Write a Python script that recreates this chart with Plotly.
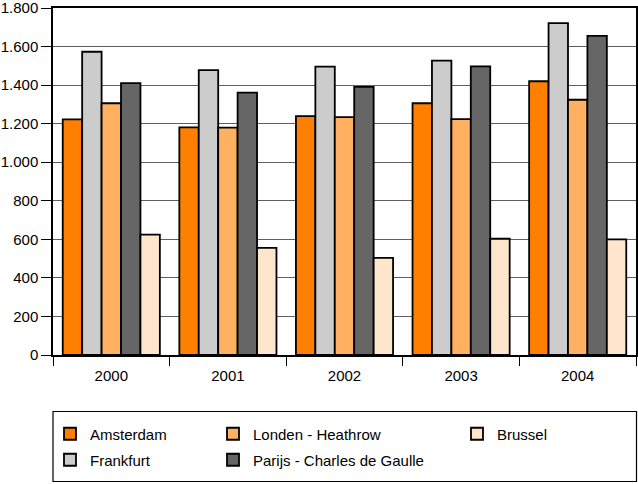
import plotly.graph_objects as go

years = ["2000", "2001", "2002", "2003", "2004"]
amsterdam = [1222, 1181, 1239, 1306, 1420]
frankfurt = [1573, 1478, 1496, 1527, 1722]
londen = [1306, 1179, 1234, 1224, 1324]
parijs = [1410, 1361, 1391, 1497, 1655]
brussel = [624, 556, 504, 603, 600]

series = [
    ("Amsterdam", amsterdam, "#FF7F00", "legend"),
    ("Frankfurt", frankfurt, "#CCCCCC", "legend2"),
    ("Londen - Heathrow", londen, "#FFB060", "legend3"),
    ("Parijs - Charles de Gaulle", parijs, "#666666", "legend4"),
    ("Brussel", brussel, "#FFE5CC", "legend5"),
]

FONT = "Liberation Sans"
fig = go.Figure()
for name, vals, col, lg in series:
    fig.add_trace(go.Bar(
        x=years, y=vals, name=name, legend=lg,
        marker=dict(color=col, line=dict(color="black", width=1.8)),
    ))

W, H = 638, 484
ml, mr, mt, mb = 53, 2, 8, 129
pw = W - ml - mr
ph = H - mt - mb

def px2x(px):
    return (px - ml) / pw

def px2y(py):
    return (H - mb - py) / ph

leg_common = dict(orientation="v", xanchor="left", yanchor="middle",
                  bgcolor="rgba(0,0,0,0)", borderwidth=0,
                  font=dict(family=FONT, size=15, color="black"))
row1, row2 = 434, 460
col1, col2, col3 = 50, 213, 457

fig.update_layout(
    width=W, height=H,
    margin=dict(l=ml, r=mr, t=mt, b=mb, pad=0, autoexpand=False),
    paper_bgcolor="white", plot_bgcolor="white",
    barmode="group", bargap=0.167, bargroupgap=0,
    separators=",.",
    font=dict(family=FONT, size=15, color="black"),
    showlegend=True,
    legend=dict(x=px2x(col1), y=px2y(row1), **leg_common),
    legend2=dict(x=px2x(col1), y=px2y(row2), **leg_common),
    legend3=dict(x=px2x(col2), y=px2y(row1), **leg_common),
    legend4=dict(x=px2x(col2), y=px2y(row2), **leg_common),
    legend5=dict(x=px2x(col3), y=px2y(row1), **leg_common),
    xaxis=dict(
        type="category", showline=True, linecolor="black", linewidth=1.5,
        mirror=True, ticks="outside", tickson="boundaries", ticklen=9,
        tickcolor="black", tickwidth=1, showgrid=False, automargin=False,
        ticklabelstandoff=6,
        tickfont=dict(family=FONT, size=15, color="black"),
    ),
    yaxis=dict(
        range=[0, 1800], dtick=200, tick0=0, tickformat=",d",
        showline=True, linecolor="black", linewidth=1.5, mirror=True,
        ticks="outside", ticklen=10, tickcolor="black", tickwidth=1,
        showgrid=True, gridcolor="#5f5f5f", gridwidth=1,
        zeroline=False, automargin=False, ticklabeloverflow="allow",
        tickfont=dict(family=FONT, size=15, color="black"),
    ),
    shapes=[dict(type="rect", xref="paper", yref="paper",
                 x0=px2x(53), x1=px2x(636.5), y0=px2y(411.5), y1=px2y(481.5),
                 line=dict(color="black", width=1.2), fillcolor="rgba(0,0,0,0)")],
)

fig.write_html("out.html", config={"displayModeBar": False},
               post_script="document.body.style.margin='0';document.body.style.overflow='hidden';")
